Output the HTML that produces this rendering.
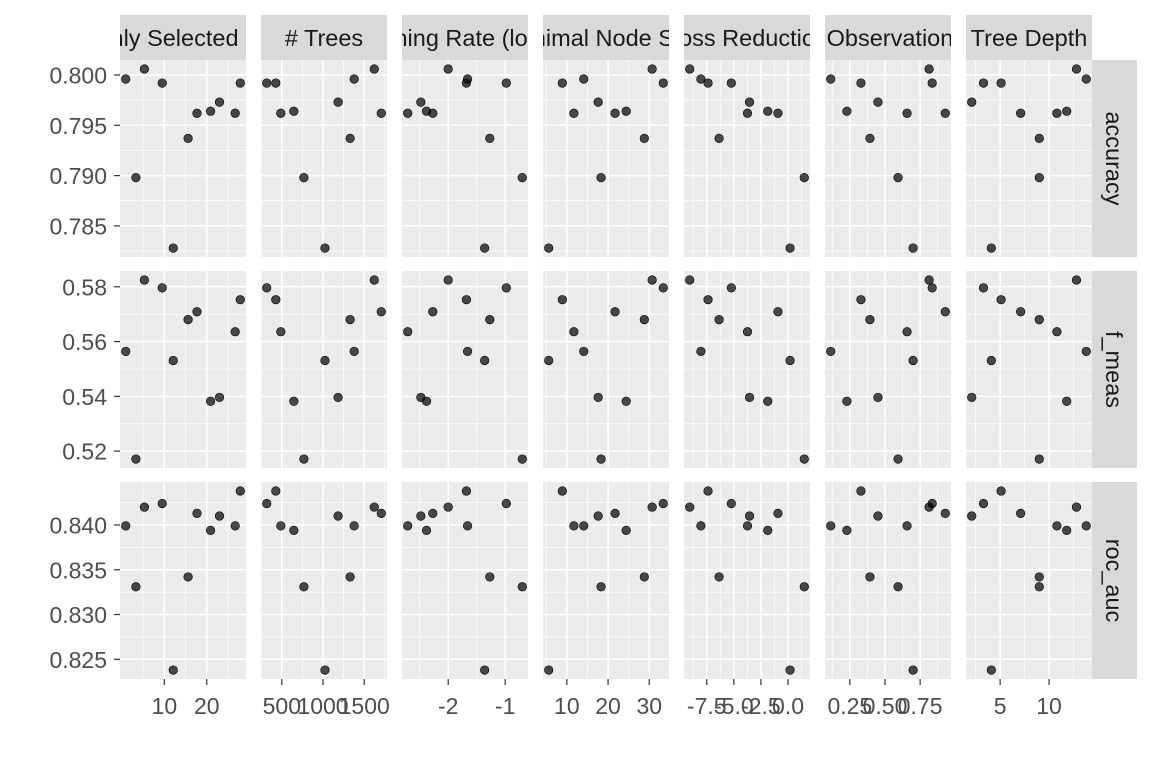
<!DOCTYPE html>
<html><head><meta charset="utf-8"><style>
html,body{margin:0;padding:0;background:#fff;}
svg{display:block;font-family:"Liberation Sans",Arial,sans-serif;}
</style></head><body>
<svg id="chart" width="1152" height="768" viewBox="0 0 1152 768"></svg>
<script>
// model metrics (11 tuning candidates)
const accuracy = [0.7996,0.7898,0.8006,0.7992,0.7828,0.7937,0.7962,0.7964,0.7973,0.7962,0.7992];
const fMeas    = [0.5564,0.5171,0.5825,0.5796,0.5531,0.5680,0.5709,0.5382,0.5396,0.5636,0.5753];
const rocAuc   = [0.8399,0.8331,0.8420,0.8424,0.8238,0.8342,0.8413,0.8394,0.8410,0.8399,0.8438];
// hyperparameters per model
const predictors = [0.9,3.3,5.3,9.5,12.1,15.6,17.7,20.9,23.0,26.7,27.9];
const trees      = [1378,768,1622,317,1024,1329,1707,646,1183,488,427];
const learnRate  = [-1.66,-0.70,-2.00,-0.98,-1.36,-1.27,-2.27,-2.38,-2.48,-2.71,-1.68];
const minNode    = [14.1,18.3,30.7,33.4,5.6,28.8,21.7,24.4,17.6,11.7,8.9];
const lossRed    = [-8.04,1.50,-9.07,-5.23,0.19,-6.36,-0.93,-1.87,-3.55,-3.74,-7.38];
const sampleSize = [0.114,0.593,0.814,0.836,0.700,0.393,0.929,0.229,0.450,0.657,0.329];
const treeDepth  = [13.8,9,12.8,3.3,4.1,9,7.1,11.8,2.1,10.8,5.1];
// facet labels and ticks
const colLabels = ["# Randomly Selected Predictors","# Trees","Learning Rate (log-10)","Minimal Node Size","Loss Reduction","Proportion Observations Sampled","Tree Depth"];
const colTicks = [[10,20],[500,1000,1500],[-2,-1],[10,20,30],[-7.5,-5,-2.5,0],[0.25,0.5,0.75],[5,10]];
const colTickLabels = [["10","20"],["500","1000","1500"],["-2","-1"],["10","20","30"],["-7.5","-5.0","-2.5","0.0"],["0.25","0.50","0.75"],["5","10"]];
const rowLabels = ["accuracy","f_meas","roc_auc"];
const rowTicks = [[0.785,0.790,0.795,0.800],[0.52,0.54,0.56,0.58],[0.825,0.830,0.835,0.840]];
const rowTickLabels = [["0.785","0.790","0.795","0.800"],["0.52","0.54","0.56","0.58"],["0.825","0.830","0.835","0.840"]];

const xs=[predictors,trees,learnRate,minNode,lossRed,sampleSize,treeDepth];
const ys=[accuracy,fMeas,rocAuc];
const svg=document.getElementById('chart');
const NS='http://www.w3.org/2000/svg';
function mk(tag,at,parent){const e=document.createElementNS(NS,tag);for(const k in at)e.setAttribute(k,at[k]);(parent||svg).appendChild(e);return e;}
const PX0=120,PW=126,PG=15,PY0=60,PH=197,PG2=14;
function scale(arr,p0,len,flip){const mn=Math.min(...arr),mx=Math.max(...arr),s=mx-mn,lo=mn-0.05*s,hi=mx+0.05*s;
 return v=>flip? p0+len-(v-lo)/(hi-lo)*len : p0+(v-lo)/(hi-lo)*len;}

for(let c=0;c<7;c++){
 const x0=PX0+c*(PW+PG);
 const sx=scale(xs[c],x0,PW,false);
 const st=mk('rect',{x:x0,y:15,width:PW,height:45,fill:'#d9d9d9'});
 
 const cp=mk('clipPath',{id:'cp'+c});mk('rect',{x:x0,y:15,width:PW,height:45},cp);
 const t=mk('text',{x:x0+PW/2,y:46,'text-anchor':'middle','font-size':23.5,fill:'#1a1a1a','clip-path':'url(#cp'+c+')'});
 t.textContent=colLabels[c];
 
 for(let r=0;r<3;r++){
  const y0=PY0+r*(PH+PG2);
  const sy=scale(ys[r],y0,PH,true);
  const bg=mk('rect',{x:x0,y:y0,width:PW,height:PH,fill:'#ebebeb'});
  
  const cl=mk('clipPath',{id:'pc'+c+'_'+r});mk('rect',{x:x0,y:y0,width:PW,height:PH},cl);
  const g=mk('g',{'clip-path':'url(#pc'+c+'_'+r+')'});
  const xt=colTicks[c],yt=rowTicks[r];
  const dx=xt.length>1?xt[1]-xt[0]:1, dy=yt[1]-yt[0];
  for(let k=-1;k<=xt.length;k++){const v=xt[0]+k*dx;mk('line',{x1:sx(v-dx/2),x2:sx(v-dx/2),y1:y0,y2:y0+PH,stroke:'#fff','stroke-width':0.7},g);}
  for(let k=-1;k<=yt.length;k++){const v=yt[0]+k*dy;mk('line',{y1:sy(v-dy/2),y2:sy(v-dy/2),x1:x0,x2:x0+PW,stroke:'#fff','stroke-width':0.7},g);}
  xt.forEach(v=>mk('line',{x1:sx(v),x2:sx(v),y1:y0,y2:y0+PH,stroke:'#fff','stroke-width':1.5},g));
  yt.forEach(v=>mk('line',{y1:sy(v),y2:sy(v),x1:x0,x2:x0+PW,stroke:'#fff','stroke-width':1.5},g));
  for(let i=0;i<xs[c].length;i++){
   const p=mk('circle',{cx:sx(xs[c][i]),cy:sy(ys[r][i]),r:4.3,fill:'rgba(0,0,0,0.7)',stroke:'#000','stroke-width':0.6});
   
  }
  if(c===0){
   yt.forEach((v,k)=>{mk('line',{x1:114,x2:x0,y1:sy(v),y2:sy(v),stroke:'#333','stroke-width':1.2});
    const l=mk('text',{x:107,y:sy(v)+8.5,'text-anchor':'end','font-size':23,fill:'#4d4d4d'});l.textContent=rowTickLabels[r][k];
    });
  }
  if(c===6){
   const rs=mk('rect',{x:x0+PW,y:y0,width:45,height:PH,fill:'#d9d9d9'});
   
   const cx=x0+PW+14,cy=y0+PH/2;
   const rl=mk('text',{x:cx,y:cy,'text-anchor':'middle','font-size':23.5,fill:'#1a1a1a',transform:'rotate(90 '+cx+' '+cy+')'});
   rl.textContent=rowLabels[r];
   
  }
  if(r===2){
   xt.forEach((v,k)=>{mk('line',{x1:sx(v),x2:sx(v),y1:y0+PH,y2:y0+PH+6,stroke:'#333','stroke-width':1.2});
    const l=mk('text',{x:sx(v),y:714,'text-anchor':'middle','font-size':23,fill:'#4d4d4d'});l.textContent=colTickLabels[c][k];
    });
  }
 }
}
</script>
</body></html>
